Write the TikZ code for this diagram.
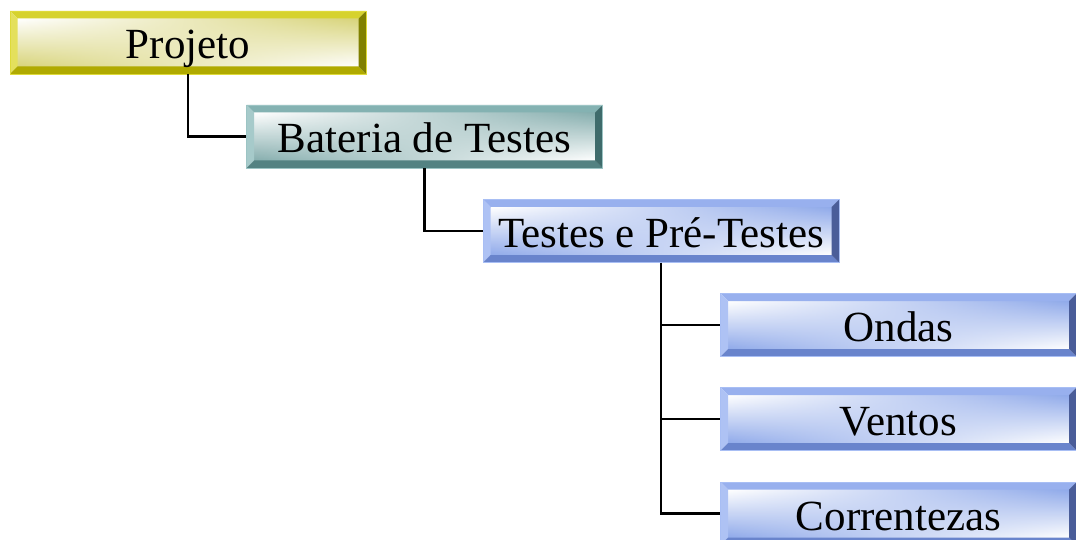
\documentclass[tikz,border=0pt]{standalone}
\usepackage{fontspec}
\setmainfont{Liberation Serif}
\usetikzlibrary{calc,fadings}

% palettes for the bevelled boxes
\definecolor{yeltop}{HTML}{D6D22E}
\definecolor{yelleft}{HTML}{E4E05C}
\definecolor{yelbot}{HTML}{B0AA00}
\definecolor{yelright}{HTML}{808000}
\definecolor{yeledge}{HTML}{DEDA3A}
\definecolor{yelface}{HTML}{D8D47A}

\definecolor{tealtop}{HTML}{84B2B2}
\definecolor{tealleft}{HTML}{A6CACA}
\definecolor{tealbot}{HTML}{538282}
\definecolor{tealright}{HTML}{3F6B6B}
\definecolor{tealedge}{HTML}{9CC4C4}
\definecolor{tealface}{HTML}{86AEAE}

\definecolor{bluetop}{HTML}{98B0EE}
\definecolor{blueleft}{HTML}{AEC2F4}
\definecolor{bluebot}{HTML}{6984CC}
\definecolor{blueright}{HTML}{4A5D99}
\definecolor{blueedge}{HTML}{A8BEF4}
\definecolor{blueface}{HTML}{90AAEA}

\tikzfading[name=fadeleft, left color=transparent!0, right color=transparent!100]

% bevel frame and shaded face, drawn inside the node outline
\newcommand\drawbevel[1]{%
  \path let \p1=(path picture bounding box.south west),
            \p2=(path picture bounding box.north east) in
    coordinate (bvA) at (\x1,\y1) coordinate (bvB) at (\x2,\y2)
    coordinate (bva) at (\x1+7.5pt,\y1+7.5pt) coordinate (bvb) at (\x2-7.5pt,\y2-7.5pt);
  \shade[top color=#1face, bottom color=white] (bva) rectangle (bvb);
  \shade[top color=white, bottom color=#1face, path fading=fadeleft] (bva) rectangle (bvb);
  \fill[#1top] (bvA|-bvB) -- (bvB) -- (bvb) -- (bva|-bvb) -- cycle;
  \fill[#1left] (bvA|-bvB) -- (bva|-bvb) -- (bva) -- (bvA) -- cycle;
  \fill[#1bot] (bvA) -- (bva) -- (bvb|-bva) -- (bvB|-bvA) -- cycle;
  \fill[#1right] (bvB|-bvA) -- (bvb|-bva) -- (bvb) -- (bvB) -- cycle;
}

\tikzset{
  bevelbox/.style={rectangle, minimum width=356pt, minimum height=63pt,
    inner sep=0pt, text height=40pt, text depth=7pt,
    font=\fontsize{43}{50}\selectfont,
    draw=#1edge, line width=0.8pt,
    path picture={\drawbevel{#1}}},
  conn/.style={draw=black, line width=2.2pt},
}

\begin{document}
\begin{tikzpicture}[x=1pt, y=-1pt]
  \useasboundingbox (0,0) rectangle (1076,540);
  \clip (0,0) rectangle (1076,540);

  \node[bevelbox=yel]  (proj) at (188,42.5)   {Projeto};
  \node[bevelbox=teal] (bat)  at (424.5,136.5) {Bateria de Testes};
  \node[bevelbox=blue] (test) at (661,231)    {Testes e Pré-Testes};
  \node[bevelbox=blue] (ond)  at (898.5,325)  {Ondas};
  \node[bevelbox=blue] (vent) at (898.5,419)  {Ventos};
  \node[bevelbox=blue] (corr) at (898.5,513.5) {Correntezas};

  \draw[conn] (proj.south) |- (bat.west);
  \draw[conn] (bat.south) |- (test.west);
  \draw[conn] (test.south) |- (ond.west);
  \draw[conn] (test.south) |- (vent.west);
  \draw[conn] (test.south) |- (corr.west);
\end{tikzpicture}
\end{document}
